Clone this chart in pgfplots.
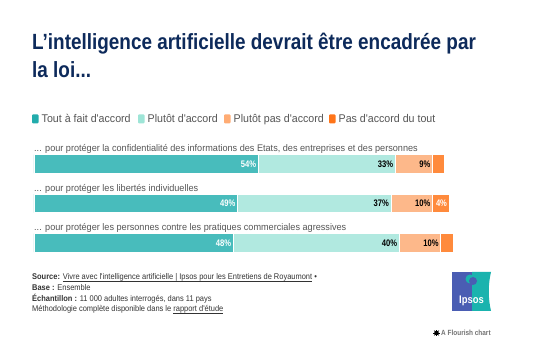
\documentclass[border=0pt]{standalone}
\usepackage{pgfplots}
\pgfplotsset{compat=1.18}
\usepackage{fontspec}
\setmainfont{Liberation Sans}[FakeStretch=0.86]
\newfontfamily\condb{Liberation Sans}[FakeStretch=0.80]
\newfontfamily\legf{Liberation Sans}[FakeStretch=0.95]
\newfontfamily\footf{Liberation Sans}[FakeStretch=0.90]
\newsavebox\ulbox
\newcommand\ul[1]{\sbox\ulbox{#1}\rlap{\rule[-1.3pt]{\wd\ulbox}{0.4pt}}\usebox\ulbox}
\definecolor{titleblue}{HTML}{0D2A5B}
\definecolor{cA}{HTML}{48BCBC}
\definecolor{cB}{HTML}{B1E9E0}
\definecolor{cC}{HTML}{FDB88A}
\definecolor{cD}{HTML}{FF8A3C}
\definecolor{lA}{HTML}{22ACAC}
\definecolor{lB}{HTML}{9EE5D7}
\definecolor{lC}{HTML}{FFAC74}
\definecolor{lD}{HTML}{FF7418}
\definecolor{txt}{HTML}{555555}
\definecolor{ipblue}{HTML}{4A5DB3}
\definecolor{ipteal}{HTML}{1AB3AE}
\pgfplotsset{geom/.style={at={(34pt,100.25pt)}, anchor=south west,
  scale only axis, width=415pt, height=118.5pt,
  xmin=0, xmax=100, ymin=-0.5, ymax=2.5, hide axis, clip=false}}
\begin{document}
\begin{tikzpicture}[x=1pt,y=1pt]
\path[use as bounding box, fill=white] (0,0) rectangle (536,363);
% title
\node[anchor=base west, inner sep=0, text=titleblue, font=\fontsize{22}{26}\selectfont\bfseries] at (32,313) {L'intelligence artificielle devrait être encadrée par};
\node[anchor=base west, inner sep=0, text=titleblue, font=\fontsize{22}{26}\selectfont\bfseries] at (32,285) {la loi...};
% legend
\foreach \c/\xs/\t in {lA/32/{Tout à fait d'accord}, lB/138/{Plutôt d'accord}, lC/224/{Plutôt pas d'accord}, lD/329/{Pas d'accord du tout}}{
  \fill[\c, rounded corners=1pt] (\xs,239.5) rectangle ++(6.5,9);
  \node[anchor=base west, inner sep=0, text=txt, font=\legf\fontsize{11.2}{13}\selectfont] at (\xs+9.5,240) {\t};
}
% category labels
\foreach \yy/\t in {211.5/{... pour protéger la confidentialité des informations des Etats, des entreprises et des personnes}, 171.8/{... pour protéger les libertés individuelles}, 132.3/{... pour protéger les personnes contre les pratiques commerciales agressives}}{
  \node[anchor=base west, inner sep=0, text=txt, font=\legf\fontsize{9.6}{11}\selectfont] at (34,\yy) {\t};
}
\begin{axis}[geom, xbar stacked, bar width=18.5pt]
\addplot[fill=cA, draw=white, line width=0.8pt] coordinates {(54,2) (49,1) (48,0)};
\addplot[fill=cB, draw=white, line width=0.8pt] coordinates {(33,2) (37,1) (40,0)};
\addplot[fill=cC, draw=white, line width=0.8pt] coordinates {(9,2) (10,1) (10,0)};
\addplot[fill=cD, draw=white, line width=0.8pt] coordinates {(3,2) (4,1) (3,0)};
\end{axis}
% value labels at segment ends
\begin{axis}[geom]
\addplot[sharp plot, draw=none, mark=none,
  point meta=explicit symbolic, nodes near coords,
  every node near coord/.append style={anchor=east, xshift=-1.8pt, text=white, font=\condb\fontsize{9.5}{10}\selectfont\bfseries, inner sep=0}]
  coordinates {(54,2) [54\%] (49,1) [49\%] (48,0) [48\%] (100,1) [4\%]};
\addplot[sharp plot, draw=none, mark=none,
  point meta=explicit symbolic, nodes near coords,
  every node near coord/.append style={anchor=east, xshift=-1.8pt, text=black, font=\condb\fontsize{9.5}{10}\selectfont\bfseries, inner sep=0}]
  coordinates {(87,2) [33\%] (96,2) [9\%] (86,1) [37\%] (96,1) [10\%] (88,0) [40\%] (98,0) [10\%]};
\end{axis}
% footer
\begin{scope}[every node/.style={anchor=base west, inner sep=0, text=black!80, font=\footf\fontsize{8.3}{10}\selectfont}]
\node at (32,83.3) {\textbf{Source:} \ul{Vivre avec l'intelligence artificielle | Ipsos pour les Entretiens de Royaumont} •};
\node at (32,72.6) {\textbf{Base :} Ensemble};
\node at (32,61.9) {\textbf{Échantillon :} 11 000 adultes interrogés, dans 11 pays};
\node at (32,51.2) {Méthodologie complète disponible dans le \ul{rapport d'étude}};
\end{scope}
% Ipsos logo
\fill[ipblue] (452,52) rectangle (472,91);
\fill[ipteal] (472,52) -- (491,52) .. controls (488,65) and (488,78) .. (491,91) -- (472,91) -- cycle;
\fill[ipteal] (470,84) circle (4.5);
\fill[ipblue] (473,82) circle (4);
\node[text=white, font=\fontsize{11}{12}\selectfont\bfseries, inner sep=0] at (471.5,62) {Ipsos};
% flourish
\node[anchor=west, inner sep=0, text=black!55, font=\fontsize{7.5}{9}\selectfont\bfseries] at (441,30) {A Flourish chart};
\fill[black] (436.5,30) circle (2.3);
\foreach \a in {0,45,...,315}{\draw[black, line width=0.6pt] (436.5,30) -- ++(\a:3.4);}
\end{tikzpicture}
\end{document}
